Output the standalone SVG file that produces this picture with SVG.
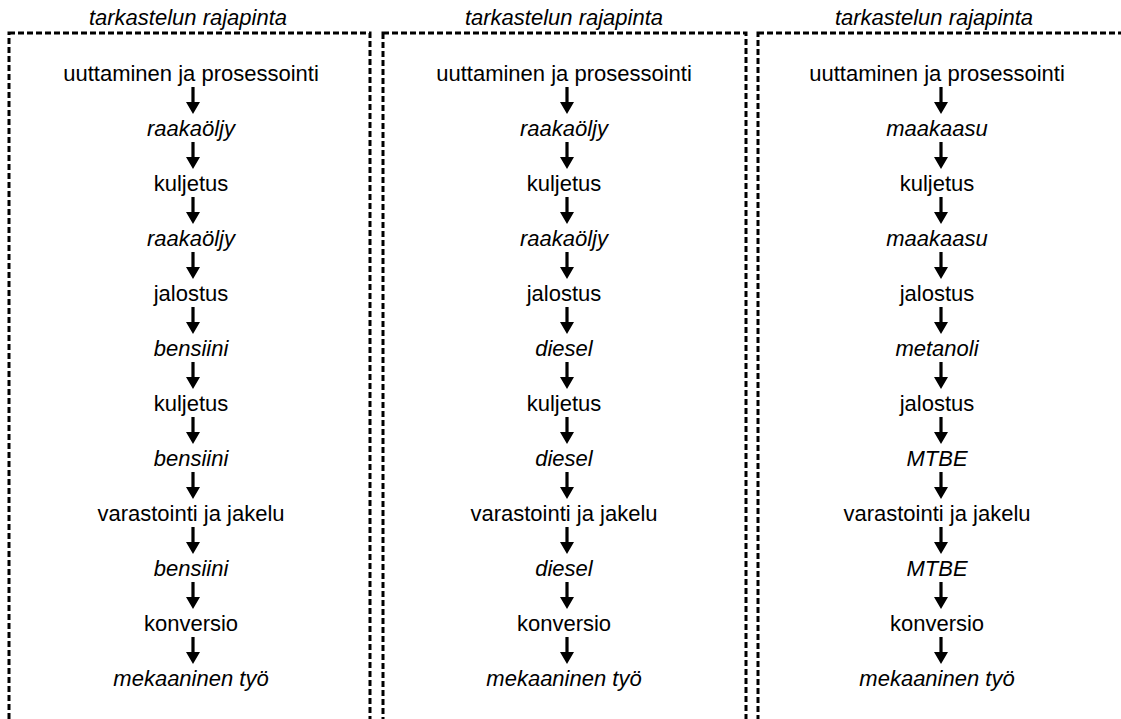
<svg xmlns="http://www.w3.org/2000/svg" width="1121" height="719" viewBox="0 0 1121 719">
<style>
.box{fill:none;stroke:#000;stroke-width:3;stroke-dasharray:6 3}
text{font-family:"Liberation Sans",Arial,sans-serif;font-size:22px;fill:#000;text-anchor:middle}
.it{font-style:italic}
.arr{fill:#000}
</style>
<defs>
<path id="arrow" class="arr" d="M-1.6,0 H1.6 V15 H7 L0,27 L-7,15 H-1.6 Z"/>
</defs>
<rect width="1121" height="719" fill="#fff"/>
<g id="frames">
<rect id="frame-1" class="box" x="9" y="33" width="361" height="720"/>
<rect id="frame-2" class="box" x="383" y="33" width="363" height="720"/>
<rect id="frame-3" class="box" x="758" y="33" width="380" height="720"/>
<text class="it" x="188" y="25">tarkastelun rajapinta</text>
<text class="it" x="564" y="25">tarkastelun rajapinta</text>
<text class="it" x="934" y="25">tarkastelun rajapinta</text>
</g>
<g id="col1">
<g id="c1n0"><text x="191" y="81">uuttaminen ja prosessointi</text></g>
<g id="c1n1"><text class="it" x="191" y="136">raakaöljy</text></g>
<g id="c1n2"><text x="191" y="191">kuljetus</text></g>
<g id="c1n3"><text class="it" x="191" y="246">raakaöljy</text></g>
<g id="c1n4"><text x="191" y="301">jalostus</text></g>
<g id="c1n5"><text class="it" x="191" y="356">bensiini</text></g>
<g id="c1n6"><text x="191" y="411">kuljetus</text></g>
<g id="c1n7"><text class="it" x="191" y="466">bensiini</text></g>
<g id="c1n8"><text x="191" y="521">varastointi ja jakelu</text></g>
<g id="c1n9"><text class="it" x="191" y="576">bensiini</text></g>
<g id="c1n10"><text x="191" y="631">konversio</text></g>
<g id="c1n11"><text class="it" x="191" y="686">mekaaninen työ</text></g>
</g>
<g id="col2">
<g id="c2n0"><text x="564" y="81">uuttaminen ja prosessointi</text></g>
<g id="c2n1"><text class="it" x="564" y="136">raakaöljy</text></g>
<g id="c2n2"><text x="564" y="191">kuljetus</text></g>
<g id="c2n3"><text class="it" x="564" y="246">raakaöljy</text></g>
<g id="c2n4"><text x="564" y="301">jalostus</text></g>
<g id="c2n5"><text class="it" x="564" y="356">diesel</text></g>
<g id="c2n6"><text x="564" y="411">kuljetus</text></g>
<g id="c2n7"><text class="it" x="564" y="466">diesel</text></g>
<g id="c2n8"><text x="564" y="521">varastointi ja jakelu</text></g>
<g id="c2n9"><text class="it" x="564" y="576">diesel</text></g>
<g id="c2n10"><text x="564" y="631">konversio</text></g>
<g id="c2n11"><text class="it" x="564" y="686">mekaaninen työ</text></g>
</g>
<g id="col3">
<g id="c3n0"><text x="937" y="81">uuttaminen ja prosessointi</text></g>
<g id="c3n1"><text class="it" x="937" y="136">maakaasu</text></g>
<g id="c3n2"><text x="937" y="191">kuljetus</text></g>
<g id="c3n3"><text class="it" x="937" y="246">maakaasu</text></g>
<g id="c3n4"><text x="937" y="301">jalostus</text></g>
<g id="c3n5"><text class="it" x="937" y="356">metanoli</text></g>
<g id="c3n6"><text x="937" y="411">jalostus</text></g>
<g id="c3n7"><text class="it" x="937" y="466">MTBE</text></g>
<g id="c3n8"><text x="937" y="521">varastointi ja jakelu</text></g>
<g id="c3n9"><text class="it" x="937" y="576">MTBE</text></g>
<g id="c3n10"><text x="937" y="631">konversio</text></g>
<g id="c3n11"><text class="it" x="937" y="686">mekaaninen työ</text></g>
</g>
<g id="connectors">
<use href="#arrow" x="193" y="87"/><use href="#arrow" x="193" y="142"/><use href="#arrow" x="193" y="197"/><use href="#arrow" x="193" y="252"/><use href="#arrow" x="193" y="307"/><use href="#arrow" x="193" y="362"/><use href="#arrow" x="193" y="417"/><use href="#arrow" x="193" y="472"/><use href="#arrow" x="193" y="527"/><use href="#arrow" x="193" y="582"/><use href="#arrow" x="193" y="637"/>
<use href="#arrow" x="567" y="87"/><use href="#arrow" x="567" y="142"/><use href="#arrow" x="567" y="197"/><use href="#arrow" x="567" y="252"/><use href="#arrow" x="567" y="307"/><use href="#arrow" x="567" y="362"/><use href="#arrow" x="567" y="417"/><use href="#arrow" x="567" y="472"/><use href="#arrow" x="567" y="527"/><use href="#arrow" x="567" y="582"/><use href="#arrow" x="567" y="637"/>
<use href="#arrow" x="941" y="87"/><use href="#arrow" x="941" y="142"/><use href="#arrow" x="941" y="197"/><use href="#arrow" x="941" y="252"/><use href="#arrow" x="941" y="307"/><use href="#arrow" x="941" y="362"/><use href="#arrow" x="941" y="417"/><use href="#arrow" x="941" y="472"/><use href="#arrow" x="941" y="527"/><use href="#arrow" x="941" y="582"/><use href="#arrow" x="941" y="637"/>
</g>
</svg>
